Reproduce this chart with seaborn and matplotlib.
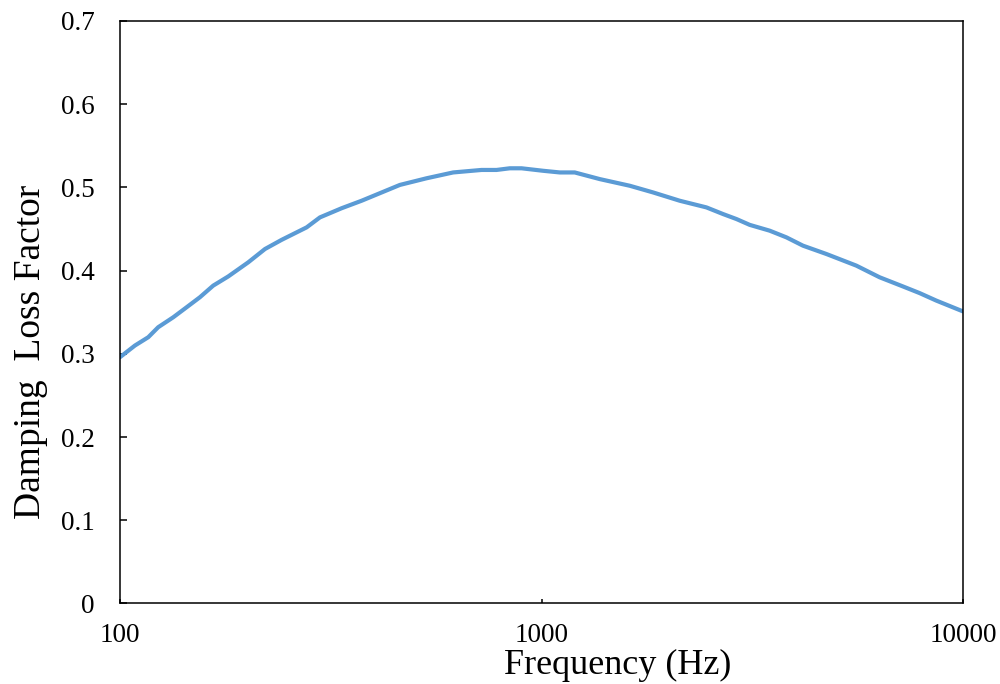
import matplotlib
matplotlib.use("Agg")
import matplotlib.pyplot as plt
import seaborn as sns
import pandas as pd
from matplotlib.ticker import FixedLocator, NullLocator, FixedFormatter

frequency = [100, 108.5, 116.7, 123.2, 133.8, 143.9, 154.7, 166.4, 180.6, 201.5,
             220.8, 241.8, 277.2, 298.1, 335.6, 374.3, 461.3, 533.8, 617.1, 720.6,
             782.3, 841.0, 896.7, 1009, 1105, 1199, 1375, 1620, 1839, 2128,
             2462, 2696, 2901, 3119, 3479, 3811, 4172, 4741, 5585, 6342,
             7204, 7891, 8643, 10000]
loss_factor = [0.296, 0.310, 0.320, 0.332, 0.344, 0.356, 0.368, 0.382, 0.393, 0.410,
               0.426, 0.437, 0.452, 0.464, 0.475, 0.484, 0.503, 0.511, 0.518, 0.521,
               0.521, 0.523, 0.523, 0.520, 0.518, 0.518, 0.510, 0.502, 0.494, 0.484,
               0.476, 0.468, 0.462, 0.455, 0.448, 0.440, 0.430, 0.420, 0.406, 0.392,
               0.381, 0.373, 0.364, 0.351]

x_ticks = [100, 1000, 10000]
x_tick_labels = ["100", "1000", "10000"]
y_ticks = [0, 0.1, 0.2, 0.3, 0.4, 0.5, 0.6, 0.7]
y_tick_labels = ["0", "0.1", "0.2", "0.3", "0.4", "0.5", "0.6", "0.7"]

df = pd.DataFrame({"Frequency": frequency, "Loss": loss_factor})

sns.set_theme(style="white")
plt.rcParams["font.family"] = ["Liberation Serif", "DejaVu Serif"]

fig = plt.figure(figsize=(10, 6.84), dpi=100)
ax = fig.add_axes([0.12, 0.1177, 0.843, 0.8516])

sns.lineplot(data=df, x="Frequency", y="Loss", ax=ax, color="#5B9BD5",
             linewidth=3.0, legend=False)

ax.set_xscale("log")
ax.set_xlim(100, 10000)
ax.set_ylim(0, 0.7)
ax.xaxis.set_major_locator(FixedLocator(x_ticks))
ax.xaxis.set_major_formatter(FixedFormatter(x_tick_labels))
ax.xaxis.set_minor_locator(NullLocator())
ax.set_yticks(y_ticks)
ax.set_yticklabels(y_tick_labels)

for s in ax.spines.values():
    s.set_visible(True)
    s.set_color("black")
    s.set_linewidth(1.1)

ax.tick_params(axis="y", direction="in", length=5, width=1.1, color="black",
               left=True, right=False, labelsize=19.5, pad=18, labelcolor="black")
ax.tick_params(axis="x", direction="in", length=3, width=1.1, color="black",
               bottom=True, top=False, labelsize=19.5, pad=14, labelcolor="black")

ax.set_xlabel("")
ax.set_ylabel("")
fig.text(0.618, 0.003, "Frequency (Hz)", fontsize=26, ha="center", va="bottom", color="black")
fig.text(0.031, 0.485, "Damping  Loss Factor", fontsize=27, ha="center", va="center",
         rotation=90, color="black")

fig.savefig("out.png", dpi=100, facecolor="white")
